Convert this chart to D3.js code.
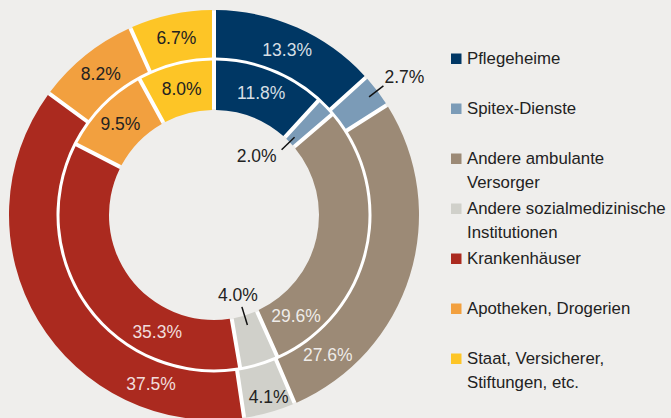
<!DOCTYPE html>
<html>
<head>
<meta charset="utf-8">
<title>Donut</title>
<script src="https://cdn.jsdelivr.net/npm/d3@7"></script>
<style>
  html, body { margin: 0; padding: 0; background: #efeeec; }
  text { font-family: "Liberation Sans", Arial, sans-serif; }
</style>
</head>
<body>
<div id="chart"></div>
<script>
// data
var categories = ["Pflegeheime", "Spitex-Dienste", "Andere ambulante Versorger",
  "Andere sozialmedizinische Institutionen", "Krankenhäuser",
  "Apotheken, Drogerien", "Staat, Versicherer, Stiftungen, etc."];
var legendLines = [["Pflegeheime"], ["Spitex-Dienste"], ["Andere ambulante", "Versorger"],
  ["Andere sozialmedizinische", "Institutionen"], ["Krankenhäuser"],
  ["Apotheken, Drogerien"], ["Staat, Versicherer,", "Stiftungen, etc."]];
var outerValues = [13.3, 2.7, 27.6, 4.1, 37.5, 8.2, 6.7];
var innerValues = [11.8, 2.0, 29.6, 4.0, 35.3, 9.5, 8.0];
var colors = ["#003764", "#7b9bb7", "#9c8a76", "#d0d0ca", "#ab2a1f", "#f2a03f", "#fdc526"];
var lightText = [true, false, true, false, true, false, false];

// label placement along each slice (t = fraction of slice angle), null = leader line
var outerLabelPos = [{t: 0.5}, null, {t: 0.84}, {t: 0.44, r: 190}, {t: 0.214}, {t: 0.5}, {t: 0.5}];
var innerLabelPos = [{t: 0.5}, null, {t: 0.86}, null, {t: 0.28}, {t: 0.5}, {t: 0.5}];

var width = 671, height = 418;
var cx = 214, cy = 215;
var rHole = 105, rMid = 156, rOuter = 205;
var gap = 4;

var svg = d3.select("#chart").append("svg")
  .attr("width", width)
  .attr("height", height);

svg.append("rect").attr("width", width).attr("height", height).attr("fill", "#efeeec");

var g = svg.append("g").attr("transform", "translate(" + cx + "," + cy + ")");

// white base so the gaps between slices show white
g.append("path")
  .attr("d", d3.arc().innerRadius(rHole + 1).outerRadius(rOuter - 1).startAngle(0).endAngle(2 * Math.PI)())
  .attr("fill", "#ffffff");

var pie = d3.pie().sort(null).value(function(d) { return d; });

var innerArc = d3.arc().innerRadius(rHole).outerRadius(rMid - 1.5)
  .padAngle(gap / 150).padRadius(150);
var outerArc = d3.arc().innerRadius(rMid + 1.5).outerRadius(rOuter)
  .padAngle(gap / 150).padRadius(150);

var innerData = pie(innerValues);
var outerData = pie(outerValues);

g.selectAll("path.inner").data(innerData).enter().append("path")
  .attr("class", "inner")
  .attr("d", innerArc)
  .attr("fill", function(d, i) { return colors[i]; });

g.selectAll("path.outer").data(outerData).enter().append("path")
  .attr("class", "outer")
  .attr("d", outerArc)
  .attr("fill", function(d, i) { return colors[i]; });

function polar(a, r) {
  return [r * Math.sin(a), -r * Math.cos(a)];
}
function fmt(v) { return v.toFixed(1) + "%"; }

function addLabels(data, values, pos, rDefault) {
  data.forEach(function(d, i) {
    var p = pos[i];
    if (!p) return;
    var a = d.startAngle + (d.endAngle - d.startAngle) * p.t;
    var xy = polar(a, p.r || rDefault);
    g.append("text")
      .attr("x", xy[0]).attr("y", xy[1])
      .attr("text-anchor", "middle")
      .attr("dominant-baseline", "central")
      .attr("font-size", 17.5)
      .attr("fill", lightText[i] ? "#ffffff" : "#222222")
      .attr("fill-opacity", lightText[i] ? 0.85 : 1)
      .text(fmt(values[i]));
  });
}
addLabels(outerData, outerValues, outerLabelPos, (rMid + rOuter) / 2);
addLabels(innerData, innerValues, innerLabelPos, (rHole + rMid) / 2);

// leader labels for the small slices
function leader(d, value, r0, r1, anchor, dx, dy) {
  var a = (d.startAngle + d.endAngle) / 2;
  var p0 = polar(a, r0), p1 = polar(a, r1);
  g.append("line")
    .attr("x1", p0[0]).attr("y1", p0[1])
    .attr("x2", p1[0]).attr("y2", p1[1])
    .attr("stroke", "#111").attr("stroke-width", 1.5);
  g.append("text")
    .attr("x", p1[0] + dx).attr("y", p1[1] + dy)
    .attr("text-anchor", anchor)
    .attr("dominant-baseline", "central")
    .attr("font-size", 17.5)
    .attr("fill", "#222")
    .text(fmt(value));
}
leader(outerData[1], outerValues[1], 195, 213, "start", 1, -9);
leader(innerData[1], innerValues[1], 112, 94, "end", -5, 6);
leader(innerData[3], innerValues[3], 115, 96, "middle", -4, -12);

// legend
var legendY = d3.scaleLinear().domain([0, categories.length - 1]).range([64, 364]);
var legend = svg.append("g");
categories.forEach(function(c, i) {
  var y = legendY(i);
  legend.append("rect")
    .attr("x", 451).attr("y", y - 10.5)
    .attr("width", 10.5).attr("height", 10.5)
    .attr("fill", colors[i]);
  var t = legend.append("text")
    .attr("x", 467).attr("y", y)
    .attr("font-size", 16.8)
    .attr("fill", "#222");
  legendLines[i].forEach(function(line, k) {
    t.append("tspan").attr("x", 467).attr("dy", k === 0 ? 0 : 23.5).text(line);
  });
});
</script>
</body>
</html>
